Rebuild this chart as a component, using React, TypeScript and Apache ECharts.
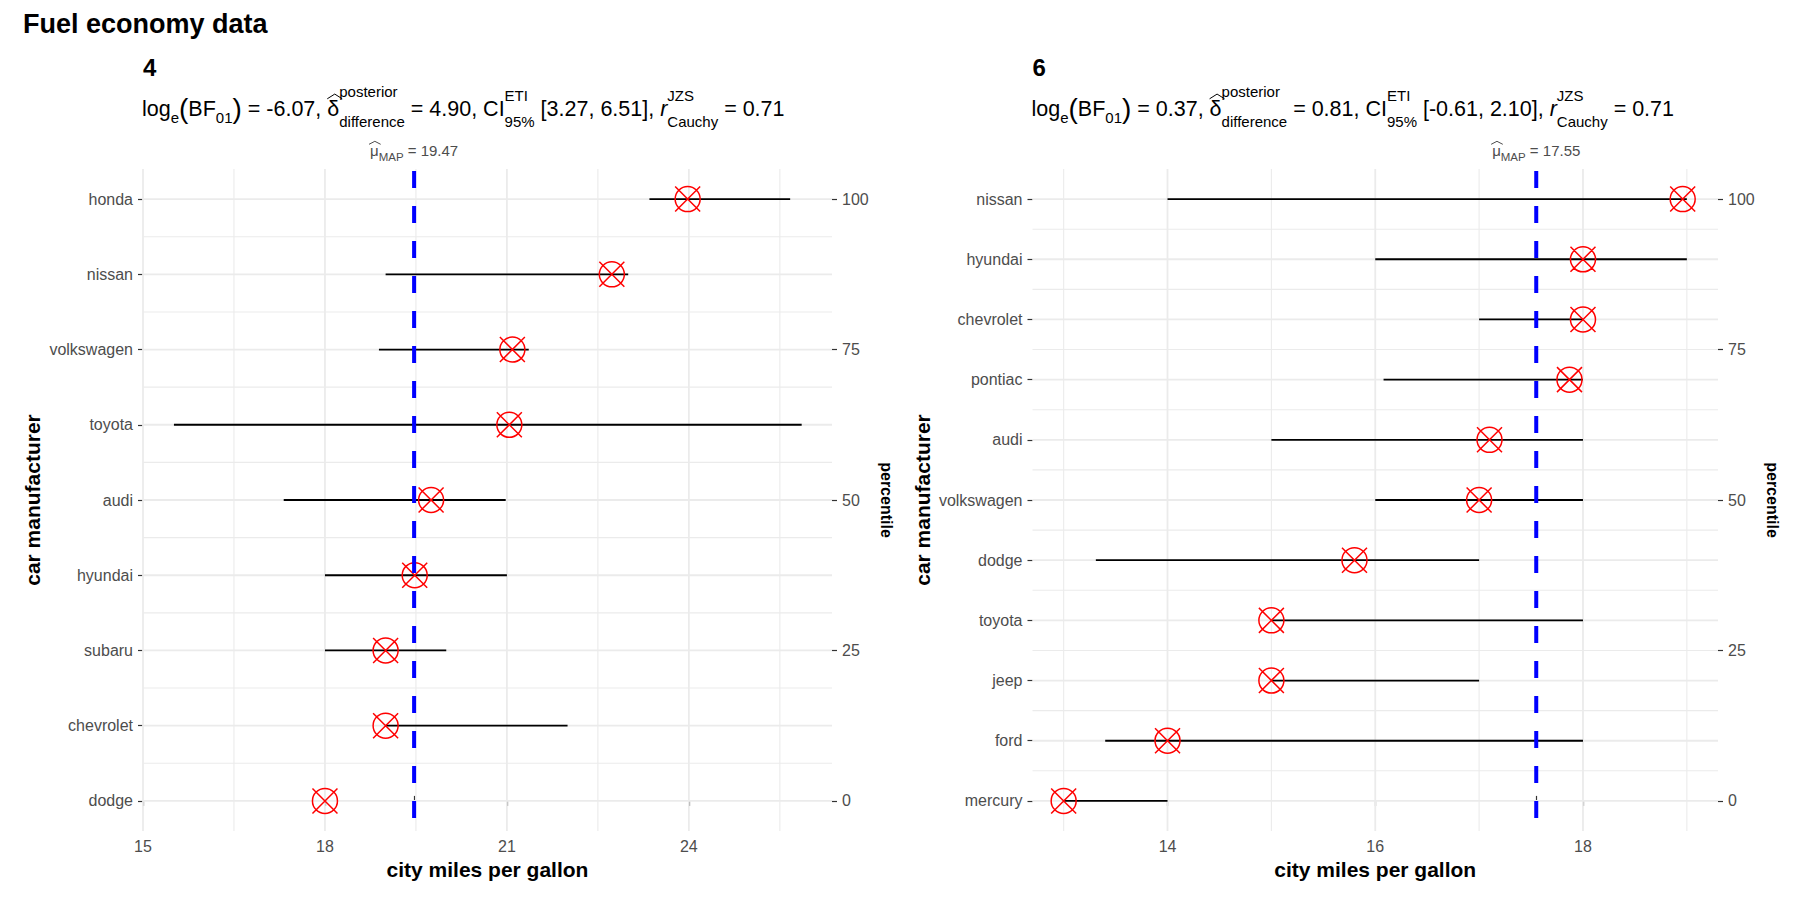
import React, { useEffect, useRef } from "react";
import * as echarts from "echarts";

const FONT = "'Liberation Sans', Arial, Helvetica, sans-serif";

// ---------- Panel "4" (4 cylinders) ----------
const makers4 = ["dodge", "chevrolet", "subaru", "hyundai", "audi", "toyota", "volkswagen", "nissan", "honda"];
const pct4 = [0, 12.5, 25, 37.5, 50, 62.5, 75, 87.5, 100];
const mean4 = [18.0, 19.0, 19.0, 19.48, 19.75, 21.04, 21.09, 22.73, 23.98];
const low4 = [18.0, 19.0, 18.0, 18.0, 17.32, 15.51, 18.89, 19.0, 23.35];
const high4 = [18.0, 22.0, 20.0, 21.0, 20.98, 25.86, 21.36, 23.0, 25.67];
const xMajor4 = [15, 18, 21, 24];
const xMinor4 = [16.5, 19.5, 22.5, 25.5];
const yMinor4 = [6.25, 18.75, 31.25, 43.75, 56.25, 68.75, 81.25, 93.75];

// ---------- Panel "6" (6 cylinders) ----------
const makers6 = ["mercury", "ford", "jeep", "toyota", "dodge", "volkswagen", "audi", "pontiac", "chevrolet", "hyundai", "nissan"];
const pct6 = [0, 10, 20, 30, 40, 50, 60, 70, 80, 90, 100];
const mean6 = [13.0, 14.0, 15.0, 15.0, 15.8, 17.0, 17.1, 17.87, 18.0, 18.0, 18.96];
const low6 = [13.0, 13.4, 15.0, 15.0, 13.31, 16.0, 15.0, 16.08, 17.0, 16.0, 14.0];
const high6 = [14.0, 18.0, 17.0, 18.0, 17.0, 18.0, 18.0, 18.0, 18.0, 19.0, 19.0];
const xMajor6 = [14, 16, 18];
const xMinor6 = [13, 15, 17, 19];
const yMinor6 = [5, 15, 25, 35, 45, 55, 65, 75, 85, 95];

// ---------- shared ----------
const pctTicks = [0, 25, 50, 75, 100];
const panelNames = ["4", "6"];
const logBF = [-6.07, 0.37];
const deltaPost = [4.9, 0.81];
const ciLow = [3.27, -0.61];
const ciHigh = [6.51, 2.1];
const rCauchy = [0.71, 0.71];
const muMAP = [19.47, 17.55];
const xMin = [15.0, 12.7];
const xMax = [26.36, 19.3];
const yMin = -5;
const yMax = 105;

const CROSS_CIRCLE = "path://M0 0L20 20M20 0L0 20M20 10A10 10 0 1 1 0 10A10 10 0 1 1 20 10Z";

let ctx: CanvasRenderingContext2D | null = null;
function measure(s: string, size: number, weight = "normal", style = "normal") {
  if (!ctx) ctx = document.createElement("canvas").getContext("2d");
  ctx!.font = `${style} ${weight} ${size}px ${FONT}`;
  return ctx!.measureText(s).width;
}

function txt(x: number, base: number, s: string, size: number, extra: any = {}) {
  return {
    type: "text",
    x,
    y: base - 0.3465 * size,
    silent: true,
    style: {
      text: s,
      fontSize: size,
      fontFamily: FONT,
      fill: "#000",
      align: "left",
      verticalAlign: "middle",
      textAlign: "left",
      textVerticalAlign: "middle",
      ...extra,
    },
  };
}

function hat(x: number, w: number, yLow: number, yHigh: number, color: string) {
  return {
    type: "polyline",
    silent: true,
    shape: { points: [[x, yLow], [x + w / 2, yHigh], [x + w, yLow]] },
    style: { stroke: color, lineWidth: 1, fill: null },
  };
}

function subtitle(pi: number, x0: number, B: number) {
  const M = 21.5;
  const S = 15;
  const out: any[] = [];
  let x = x0;
  const main = (s: string, style = "normal") => {
    out.push(txt(x, B, s, M, { fontStyle: style }));
    x += measure(s, M, "normal", style);
  };
  const paren = (s: string) => {
    const P = M * 1.3;
    out.push(txt(x, B + 0.12 * M, s, P, { fontWeight: "lighter" }));
    x += measure(s, P);
  };
  const sub = (s: string) => {
    out.push(txt(x, B + 0.32 * M, s, S));
    x += measure(s, S);
  };
  const stack = (sup: string, sb: string, rise: number) => {
    out.push(txt(x, B - rise, sup, S));
    out.push(txt(x, B + 0.5 * M, sb, S));
    x += Math.max(measure(sup, S), measure(sb, S));
  };
  main("log");
  sub("e");
  paren("(");
  main("BF");
  sub("01");
  paren(")");
  main(` = ${logBF[pi].toFixed(2)}, `);
  const dx = x;
  main("δ");
  out.push(hat(dx, measure("δ", M) + 3, B - 0.8 * M, B - 1.02 * M, "#000"));
  stack("posterior", "difference", 0.88 * M);
  main(` = ${deltaPost[pi].toFixed(2)}, CI`);
  stack("ETI", "95%", 0.72 * M);
  main(` [${ciLow[pi].toFixed(2)}, ${ciHigh[pi].toFixed(2)}], `);
  main("r", "italic");
  stack("JZS", "Cauchy", 0.72 * M);
  main(` = ${rCauchy[pi].toFixed(2)}`);
  return out;
}

function muLabel(pi: number, cx: number, B: number) {
  const m = 15;
  const s = 11.5;
  const col = "#4D4D4D";
  const rest = ` = ${muMAP[pi].toFixed(2)}`;
  const wMu = measure("μ", m);
  const wSub = measure("MAP", s);
  const W = wMu + wSub + measure(rest, m);
  let x = cx - W / 2;
  const out: any[] = [];
  out.push(txt(x, B, "μ", m, { fill: col }));
  out.push(hat(x - 1, wMu + 3, B - 0.78 * m, B - 0.98 * m, col));
  x += wMu;
  out.push(txt(x, B + 0.3 * m, "MAP", s, { fill: col }));
  x += wSub;
  out.push(txt(x, B, rest, m, { fill: col }));
  return out;
}

const vLine = (w: number, color: string, dash?: number[]) => (params: any, api: any) => {
  const cs = params.coordSys;
  const x = api.coord([api.value(0), api.value(1)])[0];
  return {
    type: "line",
    silent: true,
    shape: { x1: x, y1: cs.y, x2: x, y2: cs.y + cs.height },
    style: { stroke: color, lineWidth: w, lineDash: dash, lineDashOffset: dash ? -2 : 0 },
  };
};
const hLine = (w: number, color: string) => (params: any, api: any) => {
  const cs = params.coordSys;
  const y = api.coord([api.value(0), api.value(1)])[1];
  return {
    type: "line",
    silent: true,
    shape: { x1: cs.x, y1: y, x2: cs.x + cs.width, y2: y },
    style: { stroke: color, lineWidth: w },
  };
};
const segment = (params: any, api: any) => {
  const p1 = api.coord([api.value(0), api.value(2)]);
  const p2 = api.coord([api.value(1), api.value(2)]);
  return {
    type: "line",
    silent: true,
    shape: { x1: p1[0], y1: p1[1], x2: p2[0], y2: p2[1] },
    style: { stroke: "#000", lineWidth: 1.8 },
  };
};

export default function App() {
  const ref = useRef<HTMLDivElement>(null);
  useEffect(() => {
    const el = ref.current!;
    const chart = echarts.init(el, null, { renderer: "svg", width: 1800, height: 900 });

    const panels = [
      { makers: makers4, pct: pct4, mean: mean4, low: low4, high: high4, xMajor: xMajor4, xMinor: xMinor4, yMinor: yMinor4, left: 143, right: 968 },
      { makers: makers6, pct: pct6, mean: mean6, low: low6, high: high6, xMajor: xMajor6, xMinor: xMinor6, yMinor: yMinor6, left: 1032.5, right: 82 },
    ];

    const grid: any[] = [];
    const xAxis: any[] = [];
    const yAxis: any[] = [];
    const series: any[] = [];
    const tickStyle = { color: "#333333", width: 1.2 };
    const labelStyle = { color: "#4D4D4D", fontSize: 16, fontFamily: FONT };

    panels.forEach((p, pi) => {
      grid.push({ left: p.left, right: p.right, top: 169, bottom: 69, containLabel: false });
      xAxis.push({
        gridIndex: pi, type: "value", min: xMin[pi], max: xMax[pi], position: "bottom",
        axisLine: { show: false }, splitLine: { show: false },
        axisTick: { show: true, customValues: p.xMajor, length: 5, lineStyle: tickStyle },
        axisLabel: { show: true, customValues: p.xMajor, margin: 7, ...labelStyle },
        name: "city miles per gallon", nameLocation: "middle", nameGap: 27,
        nameTextStyle: { fontSize: 21, fontWeight: "bold", color: "#000", fontFamily: FONT },
      });
      xAxis.push({
        gridIndex: pi, type: "value", min: xMin[pi], max: xMax[pi], position: "top",
        axisLine: { show: false }, splitLine: { show: false },
        axisTick: { show: true, customValues: [muMAP[pi]], length: 5, lineStyle: tickStyle },
        axisLabel: { show: false },
      });
      yAxis.push({
        gridIndex: pi, type: "value", min: yMin, max: yMax, position: "left",
        axisLine: { show: false }, splitLine: { show: false },
        axisTick: { show: true, customValues: p.pct, length: 5, lineStyle: tickStyle },
        axisLabel: {
          show: true, customValues: p.pct, margin: 10, ...labelStyle,
          formatter: (v: number) => {
            const i = p.pct.findIndex((q) => Math.abs(q - v) < 1e-6);
            return i >= 0 ? p.makers[i] : "";
          },
        },
        name: "car manufacturer", nameLocation: "middle", nameRotate: 90, nameGap: 100,
        nameTextStyle: { fontSize: 21, fontWeight: "bold", color: "#000", fontFamily: FONT },
      });
      yAxis.push({
        gridIndex: pi, type: "value", min: yMin, max: yMax, position: "right",
        axisLine: { show: false }, splitLine: { show: false },
        axisTick: { show: true, customValues: pctTicks, length: 5, lineStyle: tickStyle },
        axisLabel: { show: true, customValues: pctTicks, margin: 10, ...labelStyle },
        name: "percentile", nameLocation: "middle", nameRotate: -90, nameGap: 46,
        nameTextStyle: { fontSize: 16, fontWeight: "bold", color: "#000", fontFamily: FONT },
      });

      const xi = pi * 2;
      const yi = pi * 2;
      const base = { xAxisIndex: xi, yAxisIndex: yi, silent: true, clip: false, animation: false };
      series.push({ ...base, type: "custom", z: 1, data: p.xMinor.map((v) => [v, 50]), renderItem: vLine(1.1, "#EBEBEB") });
      series.push({ ...base, type: "custom", z: 1, data: p.yMinor.map((v) => [p.xMajor[0], v]), renderItem: hLine(1.1, "#EBEBEB") });
      series.push({ ...base, type: "custom", z: 1, data: p.xMajor.map((v) => [v, 50]), renderItem: vLine(1.8, "#EBEBEB") });
      series.push({ ...base, type: "custom", z: 1, data: p.pct.map((v) => [p.xMajor[0], v]), renderItem: hLine(1.8, "#EBEBEB") });
      series.push({
        ...base, type: "custom", z: 2,
        data: p.low.map((lo, i) => [lo, p.high[i], p.pct[i]]),
        encode: { x: [0, 1], y: 2 },
        renderItem: segment,
      });
      series.push({
        ...base, type: "scatter", z: 3,
        data: p.mean.map((m, i) => [m, p.pct[i]]),
        symbol: CROSS_CIRCLE, symbolSize: 25,
        itemStyle: { color: "rgba(0,0,0,0)", borderColor: "#FF0000", borderWidth: 1.5, opacity: 1 },
      });
      series.push({
        ...base, type: "custom", z: 4,
        data: [[muMAP[pi], 50]],
        renderItem: vLine(4, "#0000FF", [17, 18]),
      });
    });

    chart.setOption({
      animation: false,
      backgroundColor: "#FFFFFF",
      textStyle: { fontFamily: FONT },
      grid,
      xAxis,
      yAxis,
      series,
    });

    const g: any[] = [];
    g.push(txt(23, 33, "Fuel economy data", 27, { fontWeight: "bold" }));
    panels.forEach((p, pi) => {
      const x0 = p.left;
      g.push(txt(x0, 76, panelNames[pi], 24, { fontWeight: "bold" }));
      g.push(...subtitle(pi, x0 - 1, 116));
      const cx = chart.convertToPixel({ xAxisIndex: pi * 2 } as any, muMAP[pi]) as number;
      g.push(...muLabel(pi, cx, 156));
    });
    chart.setOption({ graphic: g });

    return () => chart.dispose();
  }, []);
  return (
    <div
      ref={ref}
      style={{ position: "absolute", left: 0, top: 0, width: 1800, height: 900, background: "#fff" }}
    />
  );
}
